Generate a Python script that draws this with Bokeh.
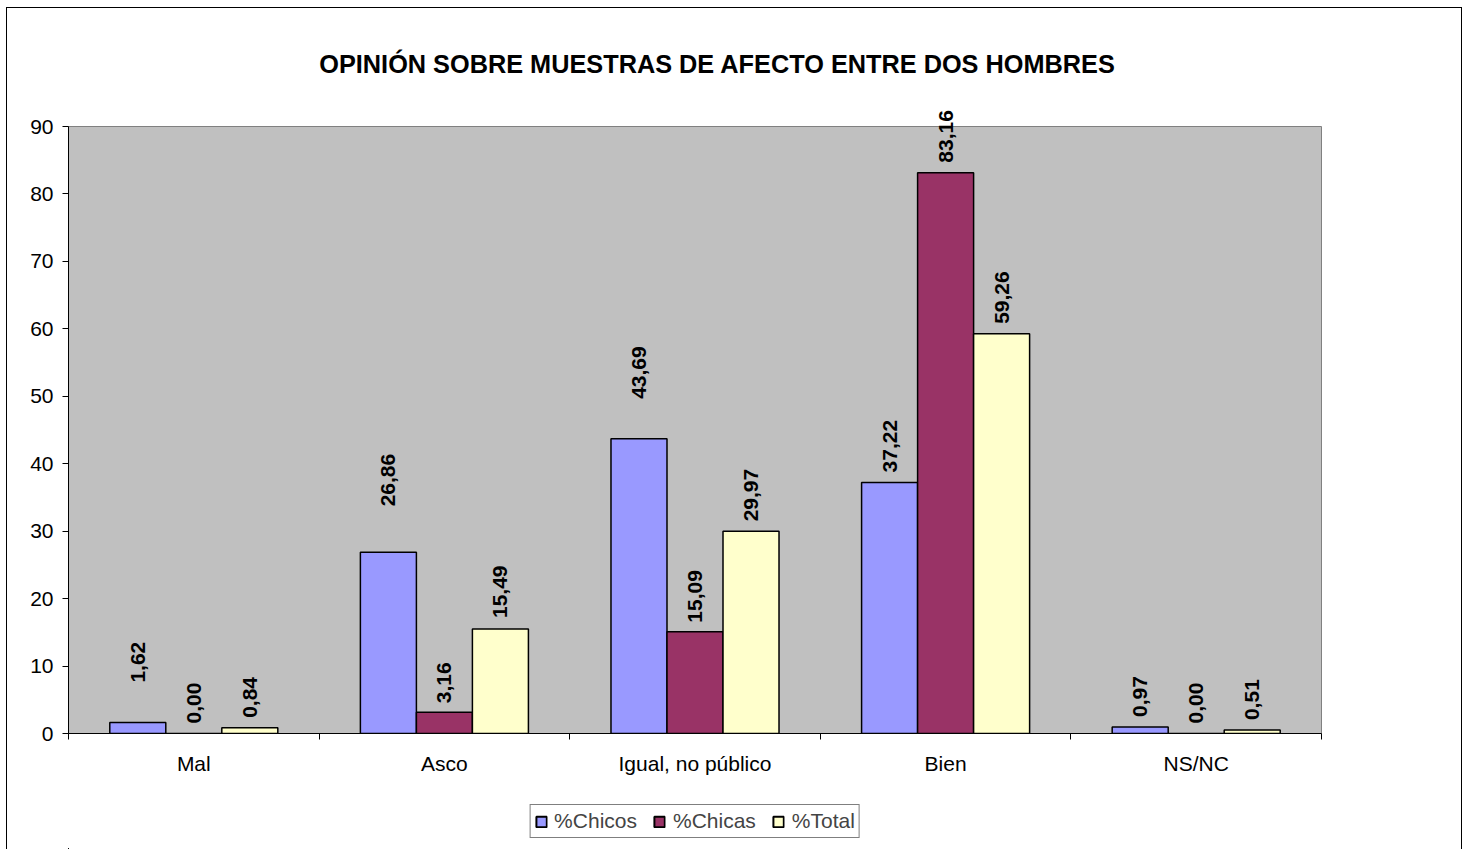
import numpy as np
from bokeh.plotting import figure
from bokeh.layouts import column
from bokeh.models import Range1d, FixedTicker, Legend, LegendItem, ColumnDataSource
from bokeh.core.properties import value
from bokeh.embed import file_html
from bokeh.resources import INLINE

# ---- data ----
title_text = "OPINIÓN SOBRE MUESTRAS DE AFECTO ENTRE DOS HOMBRES"
categories = ["Mal", "Asco", "Igual, no público", "Bien", "NS/NC"]
series_names = ["%Chicos", "%Chicas", "%Total"]
chicos = [1.62, 26.86, 43.69, 37.22, 0.97]
chicas = [0.00, 3.16, 15.09, 83.16, 0.00]
total = [0.84, 15.49, 29.97, 59.26, 0.51]
y_ticks = [0, 10, 20, 30, 40, 50, 60, 70, 80, 90]

# label gaps (pixels above bar top) as placed in the original chart
label_gaps = [
    [40, 46, 40, 10, 10],
    [10, 9, 9, 10, 10],
    [10, 11, 10, 10, 10],
]

series_values = [chicos, chicas, total]
colors = ["#9999FF", "#993366", "#FFFFCC"]
FONT = "Liberation Sans"
Y_MAX = 90

p = figure(frame_width=1253, frame_height=607, x_range=Range1d(0, len(categories)), y_range=Range1d(0, Y_MAX),
           output_backend="svg", toolbar_location=None,
           min_border_left=61, min_border_right=140, min_border_top=118, min_border_bottom=60)
p.background_fill_color = "#C0C0C0"
p.border_fill_color = "white"
p.outline_line_color = "#808080"
p.outline_line_width = 1
p.xgrid.visible = False
p.ygrid.visible = False

# title (drawn as an unclipped text above the frame)
tt = p.text(x=[len(categories) / 2], y=[Y_MAX], text=[title_text], x_offset=22.5, y_offset=-63,
            text_align="center", text_baseline="middle",
            text_font=value(FONT), text_font_style="bold", text_font_size="25.3px",
            text_color="black")
tt.level = "overlay"

bar_w = 0.2235
sources = []
for j, (name, vals, col) in enumerate(zip(series_names, series_values, colors)):
    off = (j - 1) * bar_w
    xs = [i + 0.5 + off for i in range(len(categories))]
    src = ColumnDataSource(dict(
        x=xs, top=vals,
        lab=[f"{v:.2f}".replace(".", ",") for v in vals],
        yoff=[-g for g in label_gaps[j]],
    ))
    sources.append(src)
    p.vbar(x="x", top="top", width=bar_w, bottom=0, source=src,
           fill_color=col, line_color="black", line_width=1.5)
    t = p.text(x="x", y="top", text="lab", source=src, angle=np.pi / 2,
               y_offset="yoff", text_align="left", text_baseline="middle",
               text_font=value(FONT), text_font_style="bold", text_font_size="21px",
               text_color="black")
    t.level = "overlay"

# y axis
ya = p.yaxis[0]
ya.ticker = FixedTicker(ticks=y_ticks)
ya.major_tick_out = 6
ya.major_tick_in = 0
ya.minor_tick_line_color = None
ya.axis_line_color = "black"
ya.major_tick_line_color = "black"
ya.major_label_text_font = FONT
ya.major_label_text_font_size = "21px"
ya.major_label_text_color = "black"
ya.major_label_standoff = 9

# x axis
xa = p.xaxis[0]
centers = [i + 0.5 for i in range(len(categories))]
xa.ticker = FixedTicker(ticks=centers, minor_ticks=list(range(len(categories) + 1)))
xa.major_label_overrides = {c: name for c, name in zip(centers, categories)}
xa.major_tick_line_color = None
xa.major_tick_out = 6
xa.major_tick_in = 0
xa.minor_tick_line_color = "black"
xa.minor_tick_out = 6
xa.minor_tick_in = 0
xa.axis_line_color = "black"
xa.major_label_text_font = FONT
xa.major_label_text_font_size = "21px"
xa.major_label_text_color = "black"
xa.major_label_standoff = 12

# ---- legend strip (separate figure below the chart; its view range shows no bars) ----
lg = figure(width=1454, height=56, x_range=Range1d(100, 101), y_range=Range1d(100, 101),
            output_backend="svg", toolbar_location=None,
            min_border_left=0, min_border_right=80, min_border_top=0, min_border_bottom=0)
lg.axis.visible = False
lg.xgrid.visible = False
lg.ygrid.visible = False
lg.outline_line_color = None
lg.background_fill_color = "white"
lg.border_fill_color = "white"
leg_renderers = []
for src, col in zip(sources, colors):
    r = lg.vbar(x="x", top="top", width=bar_w, bottom=0, source=src,
                fill_color=col, line_color="black", line_width=2)
    leg_renderers.append(r)

legend = Legend(items=[LegendItem(label=n, renderers=[r]) for n, r in zip(series_names, leg_renderers)],
                orientation="horizontal", location="center")
legend.border_line_color = "black"
legend.border_line_width = 1
legend.background_fill_color = "white"
legend.label_text_font = FONT
legend.label_text_font_size = "21px"
legend.glyph_width = 13
legend.glyph_height = 13
legend.label_standoff = 7
legend.spacing = 16
legend.padding = 4
legend.margin = 0
lg.add_layout(legend, "center")

layout = column(p, lg, spacing=0)
layout.margin = (7, 0, 0, 6)
layout.styles = {"border-left": "1px solid black", "border-top": "1px solid black",
                 "border-right": "1px solid black"}

open("out.html", "w").write(file_html(layout, INLINE))
